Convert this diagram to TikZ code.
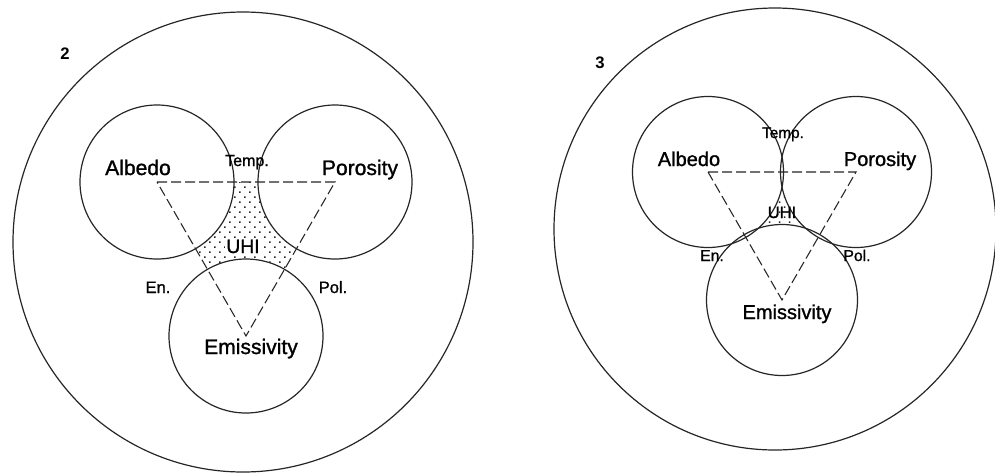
\documentclass[tikz,border=0pt]{standalone}
\usepackage{fontspec}
\setmainfont{Liberation Sans}
\newfontfamily\lblfont[FakeBold=1.2]{Liberation Sans}
\usetikzlibrary{patterns.meta}
\begin{document}
\begin{tikzpicture}[x=0.75pt,y=-0.75pt,
  ring/.style={draw=black!85, line width=0.9pt},
  link/.style={draw=black!85, line width=0.8pt, dash pattern=on 7.5pt off 3pt},
  lab/.style={anchor=base, inner sep=0pt, text=black},
  dotfill/.style={pattern={Dots[radius=0.8pt, distance=5.3pt, angle=45]}, pattern color=black!85}
 ]
\useasboundingbox[fill=white] (0,0) rectangle (995,472);
\clip (0,0) rectangle (995,472);

% ---------------- panel 2 ----------------
\coordinate (O2) at (243,242);
\coordinate (A2) at (157,182);
\coordinate (P2) at (335,182);
\coordinate (E2) at (246,336);
\begin{scope}
  \clip (A2) -- (P2) -- (E2) -- cycle;
  \fill[dotfill] (A2) -- (P2) -- (E2) -- cycle;
  \fill[white] (A2) circle[radius=77] (P2) circle[radius=77] (E2) circle[radius=77];
\end{scope}
\draw[ring] (O2) circle[radius=230];
\draw[ring] (A2) circle[radius=77];
\draw[ring] (P2) circle[radius=77];
\draw[ring] (E2) circle[radius=77];
\draw[link] (A2) -- (P2) -- (E2) -- cycle;

\node[lab, font=\bfseries\fontsize{12.5}{14}\selectfont] (n2) at (65,59) {2};
\node[lab, font=\lblfont\fontsize{15.8}{18}\selectfont] (alb2) at (138,175) {Albedo};
\node[lab, font=\lblfont\fontsize{15.8}{18}\selectfont] (por2) at (360,175) {Porosity};
\node[lab, font=\lblfont\fontsize{15.8}{18}\selectfont] (emi2) at (251,354) {Emissivity};
\node[lab, font=\lblfont\fontsize{12}{14}\selectfont] (tem2) at (247,166) {Temp.};
\node[lab, fill=white, inner sep=1pt, font=\lblfont\fontsize{14.5}{16}\selectfont] (uhi2) at (243,253) {UHI};
\node[lab, font=\lblfont\fontsize{12.4}{14}\selectfont] (en2) at (158,293) {En.};
\node[lab, font=\lblfont\fontsize{12.4}{14}\selectfont] (pol2) at (333,293) {Pol.};

% ---------------- panel 3 ----------------
\coordinate (O3) at (775,229);
\coordinate (A3) at (708,172);
\coordinate (P3) at (856,172);
\coordinate (E3) at (782,300);
\begin{scope}
  \clip (A3) -- (P3) -- (E3) -- cycle;
  \fill[dotfill] (A3) -- (P3) -- (E3) -- cycle;
  \fill[white] (A3) circle[radius=75.5] (P3) circle[radius=75.5] (E3) circle[radius=75.5];
\end{scope}
\draw[ring] (O3) circle[radius=221];
\draw[ring] (A3) circle[radius=75.5];
\draw[ring] (P3) circle[radius=75.5];
\draw[ring] (E3) circle[radius=75.5];
\draw[link] (A3) -- (P3) -- (E3) -- cycle;

\node[lab, font=\bfseries\fontsize{12.5}{14}\selectfont] (n3) at (600,68) {3};
\node[lab, font=\lblfont\fontsize{15}{18}\selectfont] (alb3) at (689,166) {Albedo};
\node[lab, font=\lblfont\fontsize{15}{18}\selectfont] (por3) at (880,166) {Porosity};
\node[lab, font=\lblfont\fontsize{15}{18}\selectfont] (emi3) at (787,319) {Emissivity};
\node[lab, font=\lblfont\fontsize{11.5}{13}\selectfont] (tem3) at (783,138) {Temp.};
\node[lab, font=\lblfont\fontsize{12.4}{14}\selectfont] (uhi3) at (782,218) {UHI};
\node[lab, font=\lblfont\fontsize{11.8}{14}\selectfont] (en3) at (712,261) {En.};
\node[lab, font=\lblfont\fontsize{11.8}{14}\selectfont] (pol3) at (857,261) {Pol.};
\end{tikzpicture}
\end{document}
